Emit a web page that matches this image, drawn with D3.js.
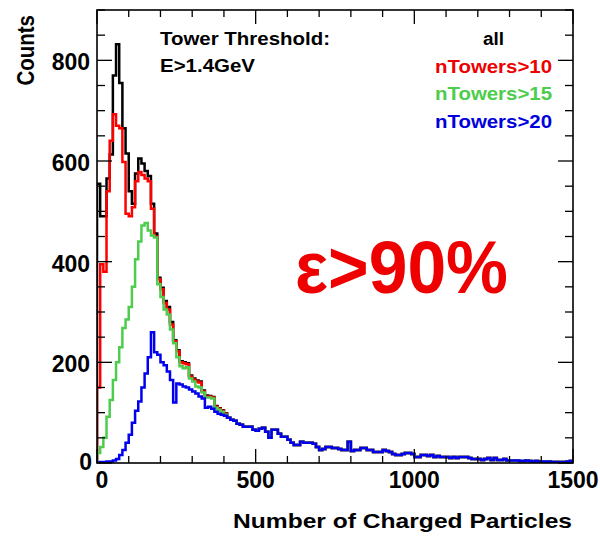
<!DOCTYPE html>
<html>
<head>
<meta charset="utf-8">
<script src="https://cdn.jsdelivr.net/npm/d3@7"></script>
<style>
  html, body { margin: 0; padding: 0; background: #ffffff; }
  svg { display: block; }
  text { font-family: "Liberation Sans", Arial, Helvetica, sans-serif; font-weight: bold; }
</style>
</head>
<body>
<svg id="chart" width="600" height="541"></svg>
<script>
// Charged-particle multiplicity, tower threshold E>1.4GeV, 10-particle bins from 0 to 1500.
const binWidth = 10;
const xMajorTicks = [0, 500, 1000, 1500];
const yMajorTicks = [0, 200, 400, 600, 800];

// Bins 0..40 (0-410 particles) for each tower-count selection
const countsAll = [555, 490, 490, 565, 613, 770, 832, 755, 665, 615,
                   540, 515, 575, 605, 595, 580, 570, 515, 456, 368,
                   348, 322, 310, 280, 244, 224, 202, 200, 198, 174,
                   168, 164, 162, 144, 134, 133, 131, 113, 109, 105, 99];
const countsN10 = [150, 395, 380, 540, 640, 693, 670, 665, 598, 495,
                   490, 508, 560, 578, 572, 565, 560, 505, 450, 365,
                   345, 318, 305, 275, 242, 222, 200, 198, 196, 172,
                   166, 162, 160, 142, 132, 132, 130, 112, 108, 104, 98];
const countsN15 = [20, 32, 50, 92, 125, 165, 200, 230, 268, 285,
                   310, 350, 405, 440, 472, 477, 462, 452, 448, 355,
                   330, 305, 295, 265, 238, 210, 192, 188, 190, 168,
                   162, 152, 150, 140, 130, 130, 128, 110, 106, 102, 96];
const countsN20 = [1, 2, 2, 3, 3, 5, 8, 16, 26, 40,
                   56, 80, 104, 122, 150, 178, 210, 260, 220, 215,
                   200, 194, 182, 165, 120, 158, 156, 152, 150, 146,
                   142, 138, 132, 128, 110, 112, 108, 102, 98, 96, 94];
// Bins 41..149 (410-1500 particles): all selections accept these events
const countsTail = [90, 86, 84, 78, 76, 72, 72, 72, 66, 64,
                    68, 70, 62, 50, 66, 66, 58, 52, 52, 46,
                    40, 36, 36, 42, 40, 40, 40, 38, 32, 26,
                    28, 32, 32, 30, 30, 28, 26, 26, 42, 24,
                    26, 26, 30, 30, 26, 26, 22, 22, 22, 26,
                    24, 22, 18, 16, 16, 18, 20, 20, 18, 12,
                    12, 16, 16, 14, 16, 12, 14, 12, 12, 12,
                    10, 12, 10, 12, 12, 12, 10, 8, 8, 8,
                    6, 8, 10, 6, 10, 6, 6, 8, 5, 5,
                    5, 5, 4, 4, 5, 4, 3, 4, 3, 3,
                    2, 3, 2, 2, 2, 2, 2, 3, 4];

const seriesLabels = ["all", "nTowers>10", "nTowers>15", "nTowers>20"];
const seriesColors = ["#000000", "#ff0000", "#4dcc4d", "#0000ee"];
const seriesHeads = [countsAll, countsN10, countsN15, countsN20];

const frame = { left: 97, right: 573, top: 10, bottom: 463 };
const svg = d3.select("#chart");

const x = d3.scaleLinear().domain([0, 1500]).range([frame.left, frame.right]);
const y = d3.scaleLinear().domain([0, 900]).range([frame.bottom, frame.top]);

svg.append("defs").append("clipPath").attr("id", "plot-clip")
  .append("rect")
  .attr("x", frame.left).attr("y", frame.top)
  .attr("width", frame.right - frame.left).attr("height", frame.bottom - frame.top);

// Histogram outline: starts on the baseline, steps through every bin, returns to the baseline
function stepPoints(counts) {
  const pts = [[0, 0]];
  counts.forEach((c, i) => {
    pts.push([i * binWidth, c]);
    pts.push([(i + 1) * binWidth, c]);
  });
  pts.push([counts.length * binWidth, 0]);
  return pts;
}
const line = d3.line().x(d => x(d[0])).y(d => y(d[1]));

const histGroup = svg.append("g").attr("clip-path", "url(#plot-clip)");
seriesHeads.forEach((head, k) => {
  histGroup.append("path")
    .datum(stepPoints(head.concat(countsTail)))
    .attr("d", line)
    .attr("fill", "none")
    .attr("stroke", seriesColors[k])
    .attr("stroke-width", 2.5)
    .attr("stroke-linejoin", "miter");
});

// Frame and ticks on all four sides
const axes = svg.append("g").attr("stroke", "#000").attr("stroke-width", 1.3);
d3.range(0, 1501, 100).forEach(v => {
  const len = v % 500 === 0 ? 14 : 7;
  axes.append("line").attr("x1", x(v)).attr("x2", x(v))
    .attr("y1", frame.bottom).attr("y2", frame.bottom - len);
  axes.append("line").attr("x1", x(v)).attr("x2", x(v))
    .attr("y1", frame.top).attr("y2", frame.top + len);
});
d3.range(0, 901, 50).forEach(v => {
  const len = v % 200 === 0 ? 15 : 8;
  axes.append("line").attr("y1", y(v)).attr("y2", y(v))
    .attr("x1", frame.left).attr("x2", frame.left + len);
  axes.append("line").attr("y1", y(v)).attr("y2", y(v))
    .attr("x1", frame.right).attr("x2", frame.right - len);
});
svg.append("rect")
  .attr("x", frame.left).attr("y", frame.top)
  .attr("width", frame.right - frame.left).attr("height", frame.bottom - frame.top)
  .attr("fill", "none").attr("stroke", "#000").attr("stroke-width", 1.6);

// Tick labels
svg.append("g").selectAll("text").data(xMajorTicks).join("text")
  .attr("x", d => x(d) + (d === 0 ? 5 : 0)).attr("y", 488)
  .attr("text-anchor", "middle").attr("font-size", 23).attr("fill", "#000")
  .text(d => d);
svg.append("g").selectAll("text").data(yMajorTicks).join("text")
  .attr("x", d => d === 0 ? 92 : 90).attr("y", d => y(d) + (d === 0 ? 7 : 10))
  .attr("text-anchor", "end").attr("font-size", 23).attr("fill", "#000")
  .text(d => d);

// Text helper: optional width keeps the condensed/stretched look of the lettering
function addText(str, px, py, size, color, anchor, width) {
  const t = svg.append("text")
    .attr("x", px).attr("y", py)
    .attr("font-size", size).attr("fill", color)
    .attr("text-anchor", anchor || "start")
    .text(str);
  if (width) t.attr("textLength", width).attr("lengthAdjust", "spacingAndGlyphs");
  return t;
}

// Axis titles
addText("Number of Charged Particles", 572, 528, 21, "#000", "end", 339);
svg.append("text")
  .attr("transform", "translate(34,15) scale(1.15,1) rotate(-90)")
  .attr("text-anchor", "end").attr("font-size", 20.5).attr("fill", "#000")
  .text("Counts");

// Threshold note
addText("Tower Threshold:", 160, 45, 18, "#000", "start", 170);
addText("E>1.4GeV", 160, 72, 18, "#000", "start", 95);

// Legend
addText(seriesLabels[0], 483, 45, 18, seriesColors[0], "start", 21);
addText(seriesLabels[1], 552, 72.5, 18, "#ee0000", "end", 117);
addText(seriesLabels[2], 552, 100, 18, "#4dcc4d", "end", 117);
addText(seriesLabels[3], 552, 128, 18, "#0000dd", "end", 117);

// Efficiency annotation
addText("ε>90%", 295, 293, 74, "#ee0000", "start", 213);
</script>
</body>
</html>
